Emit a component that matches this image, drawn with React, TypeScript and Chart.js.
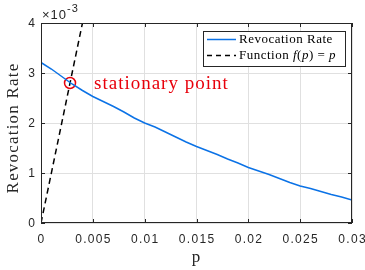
import React, { useEffect, useRef } from "react";
import { Chart, registerables } from "chart.js";

Chart.register(...registerables);

// p values
const pValues = [
  0, 0.001, 0.002, 0.003, 0.004, 0.005, 0.006, 0.007, 0.008, 0.009, 0.01,
  0.011, 0.012, 0.013, 0.014, 0.015, 0.016, 0.017, 0.018, 0.019, 0.02,
  0.021, 0.022, 0.023, 0.024, 0.025, 0.026, 0.027, 0.028, 0.029, 0.03,
];
// revocation rate in units of 1e-3
const revocationRate = [
  3.21, 3.08, 2.93, 2.78, 2.65, 2.53, 2.43, 2.33, 2.22, 2.1, 2.0,
  1.92, 1.82, 1.72, 1.62, 1.53, 1.45, 1.37, 1.28, 1.2, 1.11,
  1.04, 0.97, 0.89, 0.81, 0.74, 0.69, 0.63, 0.57, 0.52, 0.46,
];
// f(p) = p, in units of 1e-3 on y
const identityP = [0, 0.004];
const identityY = [0, 4];
const stationaryP = [0.0028];
const stationaryY = [2.8];

const xTicks = [0, 0.005, 0.01, 0.015, 0.02, 0.025, 0.03];
const xTickLabels = ["0", "0.005", "0.01", "0.015", "0.02", "0.025", "0.03"];
const yTicks = [0, 1, 2, 3, 4];
const yTickLabels = ["0", "1", "2", "3", "4"];

const AXIS = "#262626";
const BLUE = "#0b72e6";
const SERIF = "'Liberation Serif', 'Times New Roman', serif";
const SANS = "'Liberation Sans', Arial, sans-serif";

const decorPlugin = {
  id: "decor",
  afterDraw(chart: any) {
    const { ctx, chartArea: a, scales } = chart;
    const xs = scales.x;
    const ys = scales.y;
    ctx.save();
    // box
    ctx.strokeStyle = AXIS;
    ctx.lineWidth = 1;
    ctx.strokeRect(a.left + 0.5, a.top + 0.5, a.right - a.left - 1, a.bottom - a.top - 1);
    // inward ticks
    ctx.beginPath();
    const tl = 4;
    xTicks.forEach((t) => {
      const x = Math.round(xs.getPixelForValue(t)) + 0.5;
      ctx.moveTo(x, a.bottom);
      ctx.lineTo(x, a.bottom - tl);
      ctx.moveTo(x, a.top);
      ctx.lineTo(x, a.top + tl);
    });
    yTicks.forEach((t) => {
      const y = Math.round(ys.getPixelForValue(t)) + 0.5;
      ctx.moveTo(a.left, y);
      ctx.lineTo(a.left + tl, y);
      ctx.moveTo(a.right, y);
      ctx.lineTo(a.right - tl, y);
    });
    ctx.stroke();

    // tick labels
    ctx.fillStyle = AXIS;
    ctx.font = `12px ${SANS}`;
    (ctx as any).letterSpacing = "1.3px";
    ctx.textBaseline = "middle";
    ctx.textAlign = "center";
    xTicks.forEach((t, i) => {
      ctx.fillText(xTickLabels[i], xs.getPixelForValue(t) + 0.6, 240);
    });
    ctx.textAlign = "right";
    yTicks.forEach((t, i) => {
      ctx.fillText(yTickLabels[i], 35 + 1.3, ys.getPixelForValue(t) + 0.5);
    });

    // exponent
    ctx.textBaseline = "alphabetic";
    ctx.textAlign = "left";
    (ctx as any).letterSpacing = "1px";
    ctx.font = `13px ${SANS}`;
    ctx.fillText("\u00d710", 42, 19);
    const w = ctx.measureText("\u00d710").width;
    ctx.font = `11px ${SANS}`;
    ctx.fillText("-3", 42 + w, 12);

    // axis titles
    ctx.font = `17px ${SERIF}`;
    (ctx as any).letterSpacing = "1.2px";
    ctx.textAlign = "center";
    ctx.textBaseline = "middle";
    ctx.fillText("p", (a.left + a.right) / 2, 258);
    ctx.save();
    ctx.translate(14, 128);
    ctx.rotate(-Math.PI / 2);
    ctx.fillText("Revocation Rate", 0, 0);
    ctx.restore();

    // annotation text
    ctx.fillStyle = "#e8000b";
    ctx.font = `19px ${SERIF}`;
    (ctx as any).letterSpacing = "1px";
    ctx.textAlign = "left";
    ctx.textBaseline = "middle";
    ctx.fillText(
      "stationary point",
      xs.getPixelForValue(stationaryP[0]) + 24,
      ys.getPixelForValue(stationaryY[0]) + 1
    );

    // legend
    (ctx as any).letterSpacing = "0.5px";
    const lx = 203, ly = 31, lw = 142, lh = 35;
    ctx.fillStyle = "#ffffff";
    ctx.fillRect(lx, ly, lw, lh);
    ctx.strokeStyle = AXIS;
    ctx.lineWidth = 1;
    ctx.strokeRect(lx + 0.5, ly + 0.5, lw, lh);
    const ds = chart.data.datasets;
    const rows = [ds[0], ds[1]];
    rows.forEach((d: any, i: number) => {
      const y = ly + 8.5 + i * 16;
      ctx.beginPath();
      ctx.strokeStyle = d.borderColor;
      ctx.lineWidth = 1.5;
      ctx.setLineDash(d.borderDash ? [5, 4] : []);
      ctx.moveTo(lx + 4, y);
      ctx.lineTo(lx + 33, y);
      ctx.stroke();
      ctx.setLineDash([]);
      ctx.fillStyle = "#000";
      ctx.font = `13px ${SERIF}`;
      ctx.textAlign = "left";
      ctx.textBaseline = "middle";
      if (i === 0) {
        ctx.fillText(d.label, lx + 36, y);
      } else {
        let x = lx + 36;
        const parts: [string, boolean][] = [
          ["Function ", false],
          ["f", true],
          ["(", false],
          ["p", true],
          [") = ", false],
          ["p", true],
        ];
        parts.forEach(([s, it]) => {
          ctx.font = `${it ? "italic " : ""}13px ${SERIF}`;
          ctx.fillText(s, x, y);
          x += ctx.measureText(s).width;
        });
      }
    });
    ctx.restore();
  },
};

export default function App() {
  const ref = useRef<HTMLCanvasElement | null>(null);
  useEffect(() => {
    if (!ref.current) return;
    const chart = new Chart(ref.current, {
      type: "line",
      data: {
        datasets: [
          {
            label: "Revocation Rate",
            data: pValues.map((p, i) => ({ x: p, y: revocationRate[i] })),
            borderColor: BLUE,
            borderWidth: 1.5,
            pointRadius: 0,
            tension: 0,
          },
          {
            label: "Function f(p) = p",
            data: identityP.map((p, i) => ({ x: p, y: identityY[i] })),
            borderColor: "#000000",
            borderWidth: 1.5,
            borderDash: [6, 4],
            pointRadius: 0,
          },
          {
            label: "stationary point",
            data: stationaryP.map((p, i) => ({ x: p, y: stationaryY[i] })),
            borderColor: "#e8000b",
            backgroundColor: "rgba(0,0,0,0)",
            borderWidth: 1.5,
            pointRadius: 5.5,
            pointStyle: "circle",
            showLine: false,
          },
        ],
      },
      options: {
        animation: false,
        responsive: false,
        maintainAspectRatio: false,
        layout: { padding: { left: 0, top: 23, right: 13, bottom: 0 } },
        plugins: { legend: { display: false }, tooltip: { enabled: false } },
        scales: {
          x: {
            type: "linear",
            min: 0,
            max: 0.03,
            afterFit: (s: any) => {
              s.height = 47;
            },
            afterBuildTicks: (s: any) => {
              s.ticks = xTicks.map((v) => ({ value: v }));
            },
            ticks: { display: false },
            grid: { color: "#e0e0e0", drawTicks: false },
            border: { display: false },
          },
          y: {
            type: "linear",
            min: 0,
            max: 4,
            afterFit: (s: any) => {
              s.width = 41;
            },
            afterBuildTicks: (s: any) => {
              s.ticks = yTicks.map((v) => ({ value: v }));
            },
            ticks: { display: false },
            grid: { color: "#e0e0e0", drawTicks: false },
            border: { display: false },
          },
        },
      },
      plugins: [decorPlugin],
    });
    return () => chart.destroy();
  }, []);
  return (
    <div style={{ position: "fixed", left: 0, top: 0, width: 365, height: 270, background: "#fff" }}>
      <canvas ref={ref} width={365} height={270} style={{ width: 365, height: 270 }} />
    </div>
  );
}
